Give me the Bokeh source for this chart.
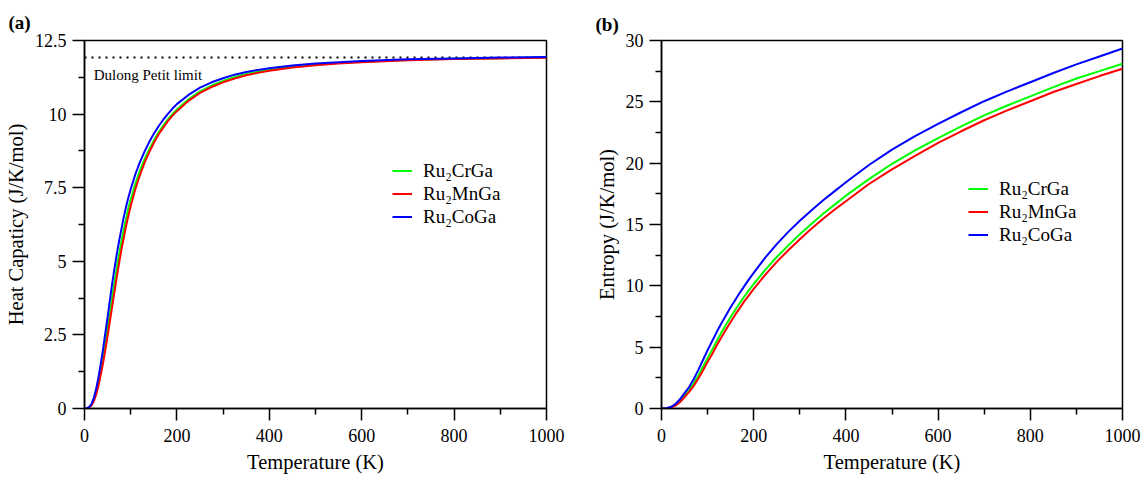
from bokeh.plotting import figure
from bokeh.layouts import row
from bokeh.models import Range1d, Label, NumeralTickFormatter, FixedTicker
from bokeh.embed import file_html
from bokeh.resources import INLINE

# ---------------- data ----------------
T_cv = [0, 5, 10, 15, 20, 25, 30, 35, 40, 45, 50, 55, 60, 65, 70, 75, 80, 85, 90, 95, 100,
        110, 120, 130, 140, 150, 160, 170, 180, 190, 200, 225, 250, 275, 300, 325, 350, 375,
        400, 450, 500, 550, 600, 700, 800, 900, 1000]
cv_cr = [0, 0.01, 0.04, 0.12, 0.28, 0.54, 0.88, 1.28, 1.72, 2.22, 2.72, 3.25, 3.78, 4.3, 4.8,
         5.25, 5.68, 6.08, 6.45, 6.8, 7.1, 7.63, 8.08, 8.47, 8.8, 9.1, 9.37, 9.6, 9.81, 10.0,
         10.16, 10.5, 10.77, 10.97, 11.13, 11.26, 11.36, 11.44, 11.5, 11.61, 11.68, 11.74,
         11.78, 11.84, 11.88, 11.9, 11.92]
cv_mn = [0, 0.005, 0.03, 0.1, 0.24, 0.46, 0.76, 1.13, 1.53, 1.98, 2.47, 2.97, 3.47, 3.98,
         4.48, 4.95, 5.4, 5.8, 6.2, 6.55, 6.88, 7.45, 7.93, 8.35, 8.7, 9.02, 9.3, 9.53, 9.75,
         9.94, 10.1, 10.45, 10.72, 10.92, 11.08, 11.21, 11.32, 11.4, 11.47, 11.58, 11.66,
         11.72, 11.76, 11.83, 11.87, 11.89, 11.91]
cv_co = [0, 0.01, 0.05, 0.15, 0.35, 0.65, 1.05, 1.5, 2.0, 2.55, 3.1, 3.68, 4.25, 4.77, 5.25,
         5.7, 6.1, 6.5, 6.85, 7.17, 7.45, 7.95, 8.37, 8.73, 9.05, 9.33, 9.58, 9.8, 10.0, 10.18,
         10.34, 10.65, 10.9, 11.08, 11.22, 11.34, 11.43, 11.5, 11.56, 11.65, 11.72, 11.76,
         11.8, 11.86, 11.89, 11.92, 11.94]

T_s = [0, 10, 20, 30, 40, 50, 60, 70, 80, 90, 100, 110, 120, 130, 140, 150, 160, 170, 180,
       190, 200, 225, 250, 275, 300, 325, 350, 375, 400, 450, 500, 550, 600, 650, 700, 750,
       800, 850, 900, 950, 1000]
s_cr = [0, 0.015, 0.09, 0.27, 0.6, 1.05, 1.5, 2.05, 2.7, 3.4, 4.1, 4.8, 5.5, 6.2, 6.85, 7.45,
        8.05, 8.6, 9.15, 9.65, 10.15, 11.3, 12.35, 13.3, 14.2, 15.05, 15.85, 16.6, 17.35,
        18.7, 19.95, 21.05, 22.05, 23.0, 23.9, 24.7, 25.45, 26.2, 26.9, 27.5, 28.1]
s_mn = [0, 0.01, 0.08, 0.23, 0.52, 0.92, 1.35, 1.85, 2.45, 3.1, 3.8, 4.45, 5.15, 5.8, 6.45,
        7.05, 7.65, 8.2, 8.75, 9.25, 9.75, 10.9, 11.95, 12.9, 13.8, 14.65, 15.45, 16.2, 16.9,
        18.3, 19.5, 20.6, 21.65, 22.6, 23.5, 24.3, 25.05, 25.8, 26.45, 27.1, 27.7]
s_co = [0, 0.02, 0.12, 0.35, 0.75, 1.25, 1.75, 2.4, 3.15, 3.95, 4.75, 5.5, 6.25, 6.95, 7.6,
        8.25, 8.85, 9.45, 10.0, 10.55, 11.05, 12.3, 13.4, 14.4, 15.3, 16.15, 16.95, 17.7,
        18.45, 19.85, 21.1, 22.2, 23.2, 24.15, 25.05, 25.85, 26.6, 27.35, 28.05, 28.7, 29.35]

DULONG_LIMIT = 11.92
series_names = ["Ru\u2082CrGa", "Ru\u2082MnGa", "Ru\u2082CoGa"]
series_colors = ["#00ff00", "#ff0000", "#0000ff"]
x_ticks = [0, 200, 400, 600, 800, 1000]
cv_ticks = [0, 2.5, 5, 7.5, 10, 12.5]
s_ticks = [0, 5, 10, 15, 20, 25, 30]

FONT = "Liberation Serif"


def style(p, yticks):
    p.grid.visible = False
    p.outline_line_color = "black"
    p.outline_line_width = 1.5
    p.background_fill_color = "white"
    p.border_fill_color = "white"
    for ax in (p.xaxis[0], p.yaxis[0]):
        ax.axis_line_width = 1.5
        ax.major_tick_line_width = 1.5
        ax.minor_tick_line_width = 1.5
        ax.major_tick_out = 12
        ax.major_tick_in = 0
        ax.minor_tick_out = 6
        ax.minor_tick_in = 0
        ax.major_label_text_font = FONT
        ax.major_label_text_font_size = "18px"
        ax.major_label_text_color = "black"
        ax.axis_label_text_font = FONT
        ax.axis_label_text_font_size = "20.5px"
        ax.axis_label_text_font_style = "normal"
        ax.axis_label_text_color = "black"
        ax.formatter = NumeralTickFormatter(format="0.[0]")
    p.xaxis[0].ticker = FixedTicker(ticks=x_ticks,
                                    minor_ticks=[v + 100 for v in x_ticks[:-1]])
    step = yticks[1] - yticks[0]
    p.yaxis[0].ticker = FixedTicker(ticks=yticks,
                                    minor_ticks=[v + step / 2 for v in yticks[:-1]])
    p.xaxis[0].major_label_standoff = 8
    p.yaxis[0].major_label_standoff = 6
    p.xaxis[0].axis_label_standoff = 6
    p.yaxis[0].axis_label_standoff = 5
    p.xaxis[0].axis_label = "Temperature (K)"


def legend_style(p, loc):
    lg = p.legend[0]
    lg.location = loc
    lg.glyph_width = 20
    lg.glyph_height = 23
    lg.label_height = 23
    lg.label_standoff = 11
    lg.padding = 0
    lg.spacing = 0
    lg.margin = 0
    lg.border_line_alpha = 0
    lg.background_fill_alpha = 0
    lg.label_text_font = FONT
    lg.label_text_font_size = "19px"
    lg.label_text_color = "black"


def panel_title(p, txt, offset, standoff):
    p.title.text = txt
    p.title.align = "left"
    p.title.offset = offset
    p.title.standoff = standoff
    p.title.text_font = FONT
    p.title.text_font_size = "19px"
    p.title.text_font_style = "bold"
    p.title.text_color = "black"


# ---------------- panel (a) ----------------
p1 = figure(width=574, height=481, output_backend="svg", toolbar_location=None,
            x_range=Range1d(0, 1000), y_range=Range1d(0, 12.5),
            min_border_left=84, min_border_right=28, min_border_top=40, min_border_bottom=73)
p1.line([0, 1000], [DULONG_LIMIT, DULONG_LIMIT], line_color="black", line_width=2,
        line_dash="2 5")
for ys, name, col in zip([cv_cr, cv_mn, cv_co], series_names, series_colors):
    p1.line(T_cv, ys, line_color=col, line_width=2, legend_label=name)
style(p1, cv_ticks)
p1.yaxis[0].axis_label = "Heat Capaticy (J/K/mol)"
legend_style(p1, (308, 180))
p1.add_layout(Label(x=20, y=DULONG_LIMIT, y_offset=-17, text="Dulong Petit limit",
                    text_font=FONT, text_font_size="15px", text_color="black",
                    text_baseline="alphabetic"))
panel_title(p1, "(a)", -76, 16)

# ---------------- panel (b) ----------------
p2 = figure(width=574, height=481, output_backend="svg", toolbar_location=None,
            x_range=Range1d(0, 1000), y_range=Range1d(0, 30),
            min_border_left=87, min_border_right=26, min_border_top=40, min_border_bottom=73)
for ys, name, col in zip([s_cr, s_mn, s_co], series_names, series_colors):
    p2.line(T_s, ys, line_color=col, line_width=2, legend_label=name)
style(p2, s_ticks)
p2.yaxis[0].axis_label = "Entropy (J/K/mol)"
legend_style(p2, (307, 162))
panel_title(p2, "(b)", -66, 12)

layout = row(p1, p2)
open("out.html", "w").write(file_html(layout, INLINE))
